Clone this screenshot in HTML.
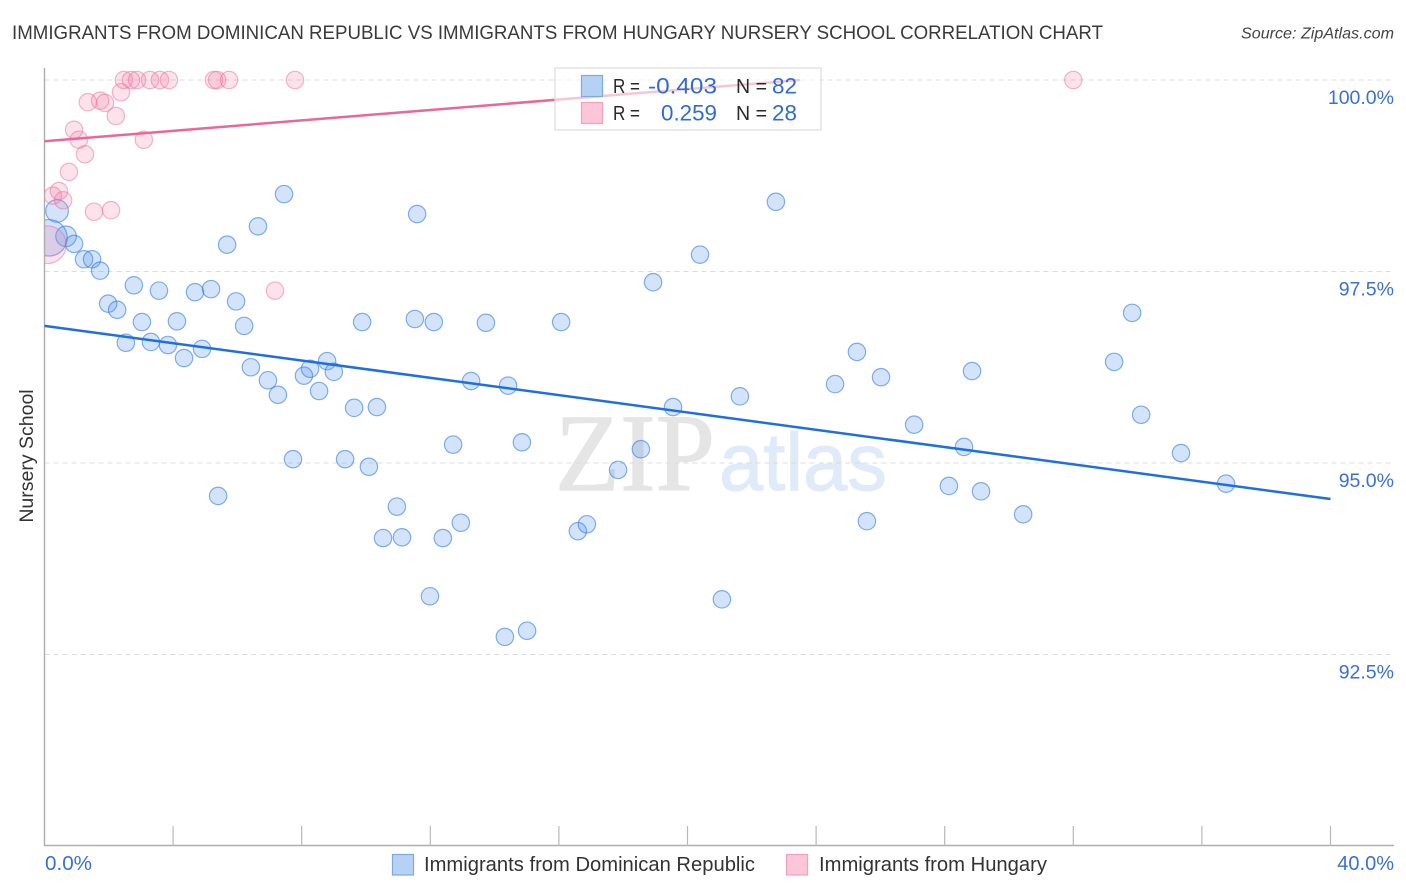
<!DOCTYPE html>
<html lang="en">
<head>
<meta charset="utf-8">
<title>Nursery School Correlation Chart</title>
<style>
html,body{margin:0;padding:0;background:#fff;}
svg{display:block;font-family:"Liberation Sans",sans-serif;}
</style>
</head>
<body>
<svg id="chart" width="1406" height="892" viewBox="0 0 1406 892" xmlns="http://www.w3.org/2000/svg">
  <defs>
    <clipPath id="plot-clip"><rect x="45" y="60" width="1349" height="786"/></clipPath>
  </defs>
  <rect width="1406" height="892" fill="#fff"/>
  <text x="12" y="39" font-size="19" fill="#3a3a3a" textLength="1091" lengthAdjust="spacingAndGlyphs">IMMIGRANTS FROM DOMINICAN REPUBLIC VS IMMIGRANTS FROM HUNGARY NURSERY SCHOOL CORRELATION CHART</text>
  <text x="1241" y="38.5" font-size="16" font-style="italic" fill="#444" textLength="153" lengthAdjust="spacingAndGlyphs">Source: ZipAtlas.com</text>
  <g>
    <text x="555" y="490" font-family="'Liberation Serif',serif" font-size="110" fill="#e5e5e5" stroke="#e5e5e5" stroke-width="1.2" textLength="160" lengthAdjust="spacingAndGlyphs">ZIP</text>
    <text x="719" y="490" font-size="82" fill="#e0eaf8" stroke="#e0eaf8" stroke-width="1" textLength="168" lengthAdjust="spacingAndGlyphs">atlas</text>
  </g>
  <g id="grid"></g>
  <g id="axes"></g>
  <g id="points" clip-path="url(#plot-clip)"></g>
  <g id="trends"></g>
  <g>
    <rect x="555" y="68" width="266" height="62" fill="#fff" fill-opacity="0.62" stroke="#dcdcdc" stroke-width="1.2"/>
    <rect x="581.5" y="75.5" width="21" height="21" fill="#b5d2f6" stroke="#7fa9e2" stroke-width="1.2"/>
    <rect x="581.5" y="102.5" width="21" height="21" fill="#fcc6d9" stroke="#f2a0bf" stroke-width="1.2"/>
    <g font-size="20">
      <text x="613" y="93" fill="#2a2a2a" textLength="27" lengthAdjust="spacingAndGlyphs">R =</text>
      <text x="648" y="93.5" font-size="22" fill="#2f6bd0" textLength="69" lengthAdjust="spacingAndGlyphs">-0.403</text>
      <text x="736" y="93" fill="#2a2a2a" textLength="31" lengthAdjust="spacingAndGlyphs">N =</text>
      <text x="772" y="93.5" font-size="22" fill="#2f6bd0" textLength="25" lengthAdjust="spacingAndGlyphs">82</text>
      <text x="613" y="120" fill="#2a2a2a" textLength="27" lengthAdjust="spacingAndGlyphs">R =</text>
      <text x="661" y="120.5" font-size="22" fill="#2f6bd0" textLength="56" lengthAdjust="spacingAndGlyphs">0.259</text>
      <text x="736" y="120" fill="#2a2a2a" textLength="31" lengthAdjust="spacingAndGlyphs">N =</text>
      <text x="772" y="120.5" font-size="22" fill="#2f6bd0" textLength="25" lengthAdjust="spacingAndGlyphs">28</text>
    </g>
  </g>
  <text transform="translate(33,456) rotate(-90)" font-size="19.5" fill="#333" text-anchor="middle">Nursery School</text>
  <g>
    <rect x="392.5" y="854.5" width="21" height="20.5" fill="#b5d2f6" stroke="#7fa9e2" stroke-width="1.2"/>
    <text x="424" y="871" font-size="20" fill="#333" textLength="331" lengthAdjust="spacingAndGlyphs">Immigrants from Dominican Republic</text>
    <rect x="786.5" y="854.5" width="21" height="20.5" fill="#fcc6d9" stroke="#f2a0bf" stroke-width="1.2"/>
    <text x="819" y="871" font-size="20" fill="#333" textLength="228" lengthAdjust="spacingAndGlyphs">Immigrants from Hungary</text>
  </g>
</svg>
<script>
// Chart data (units: percent)
var xTicks = [0, 4, 8, 12, 16, 20, 24, 28, 32, 36, 40];
var xTickLabels = ["0.0%", "40.0%"];
var yTicks = [100, 97.5, 95, 92.5];
var yTickLabels = ["100.0%", "97.5%", "95.0%", "92.5%"];

var dominicanX = [0.39,0.67,0.14,0.92,1.23,1.48,1.73,2.78,1.98,2.26,3.56,4.68,5.18,5.96,3.03,4.12,2.53,3.31,3.84,4.90,4.34,6.21,6.42,6.95,7.26,7.73,5.40,5.68,6.64,7.45,8.07,8.26,8.79,9.00,8.54,9.63,10.34,9.88,11.52,12.11,13.73,16.07,11.59,13.27,14.42,9.35,10.09,12.71,14.85,10.96,10.53,11.12,12.39,12.95,11.99,14.32,15.01,16.59,16.87,17.84,18.55,19.55,18.93,20.39,22.75,21.63,21.07,24.59,25.27,26.02,27.05,25.58,28.13,29.13,28.60,28.85,30.44,33.27,33.83,34.11,35.35,36.75];
var dominicanY = [98.29,97.96,97.94,97.86,97.66,97.66,97.51,97.32,97.08,97.00,97.25,97.23,97.27,97.11,96.84,96.85,96.57,96.58,96.54,96.49,96.37,96.79,96.25,96.08,95.89,95.05,94.57,97.85,98.09,98.51,96.14,96.23,96.33,96.19,95.94,95.72,95.73,96.84,96.88,96.84,96.83,96.84,98.25,96.07,96.01,95.05,94.95,95.24,95.27,94.43,94.02,94.03,94.02,94.22,93.26,92.73,92.81,94.11,94.20,94.91,95.18,95.73,97.36,97.72,98.41,95.87,93.22,96.03,96.45,96.12,95.50,94.24,94.70,94.63,95.21,96.20,94.33,96.32,96.96,95.63,95.13,94.73];
var dominicanWeight = [1.7,1.4,4.4];

var hungaryX = [0.09,0.26,0.45,0.58,1.54,2.07,0.76,1.26,1.07,0.92,3.09,2.22,1.35,1.73,1.88,2.38,2.47,2.69,2.88,3.28,3.59,3.87,5.27,5.37,5.74,7.79,32.0,7.17];
var hungaryY = [97.85,98.49,98.55,98.43,98.28,98.30,98.80,99.03,99.22,99.35,99.22,99.53,99.71,99.73,99.70,99.84,100,100,100,100,100,100,100,100,100,100,100,97.25];
var hungaryWeight = [4.7];

var dominicanTrendX = [0, 40];
var dominicanTrendY = [96.79, 94.53];
var hungaryTrendX = [0, 23.5];
var hungaryTrendY = [99.20, 100];

// Axis functions
function xScale(v) { return 44.5 + v * 32.15; }
function yScale(v) { return 80 + (100 - v) * 76.6; }

var NS = 'http://www.w3.org/2000/svg';
function make(tag, parent, attrs) {
  var el = document.createElementNS(NS, tag);
  for (var k in attrs) { el.setAttribute(k, attrs[k]); }
  parent.appendChild(el);
  return el;
}

var grid = document.getElementById('grid');
var axes = document.getElementById('axes');
var points = document.getElementById('points');
var trends = document.getElementById('trends');

yTicks.forEach(function (t, i) {
  var line = make('line', grid, {x1: 44.5, x2: 1394, y1: yScale(t), y2: yScale(t), stroke: '#dcdcdc', 'stroke-width': 1, 'stroke-dasharray': '5 4'});
  
  
  var label = make('text', axes, {x: 1394, y: yScale(t) + 24, 'font-size': 19.5, fill: '#3b70d2', 'text-anchor': 'end'});
  label.textContent = yTickLabels[i];
  
  
});

var yAxis = make('line', axes, {x1: 44.5, x2: 44.5, y1: 68, y2: 846, stroke: '#aeaeae', 'stroke-width': 1.4});


var xAxis = make('line', axes, {x1: 44, x2: 1394, y1: 845.5, y2: 845.5, stroke: '#aeaeae', 'stroke-width': 1.4});



xTicks.forEach(function (t, i) {
  if (i === 0) { return; }
  var tick = make('line', axes, {x1: xScale(t), x2: xScale(t), y1: 826, y2: 846, stroke: '#b8b8b8', 'stroke-width': 1.2});
  
  
});

var xLabelLeft = make('text', axes, {x: 45, y: 870, 'font-size': 20, fill: '#3b70d2', textLength: 47, lengthAdjust: 'spacingAndGlyphs'});
xLabelLeft.textContent = xTickLabels[0];


var xLabelRight = make('text', axes, {x: 1394, y: 870, 'font-size': 20, fill: '#3b70d2', 'text-anchor': 'end'});
xLabelRight.textContent = xTickLabels[1];



dominicanX.forEach(function (x, i) {
  var w = dominicanWeight[i] || 1;
  var c = make('circle', points, {cx: xScale(x), cy: yScale(dominicanY[i]), r: 8.7 * Math.sqrt(w), fill: '#4f94ea', 'fill-opacity': 0.25, stroke: '#2f78dc', 'stroke-opacity': 0.58, 'stroke-width': 1.2});
  
  
});
hungaryX.forEach(function (x, i) {
  var w = hungaryWeight[i] || 1;
  var c = make('circle', points, {cx: xScale(x), cy: yScale(hungaryY[i]), r: 8.7 * Math.sqrt(w), fill: '#f27ba4', 'fill-opacity': 0.22, stroke: '#e9709c', 'stroke-opacity': 0.5, 'stroke-width': 1.2});
  
  
});

var lineD = make('line', trends, {x1: xScale(dominicanTrendX[0]), y1: yScale(dominicanTrendY[0]), x2: xScale(dominicanTrendX[1]), y2: yScale(dominicanTrendY[1]), stroke: '#1f6fdc', 'stroke-width': 2.5});


var lineH = make('line', trends, {x1: xScale(hungaryTrendX[0]), y1: yScale(hungaryTrendY[0]), x2: xScale(hungaryTrendX[1]), y2: yScale(hungaryTrendY[1]), stroke: '#e8689a', 'stroke-width': 2.5});


</script>
</body>
</html>
